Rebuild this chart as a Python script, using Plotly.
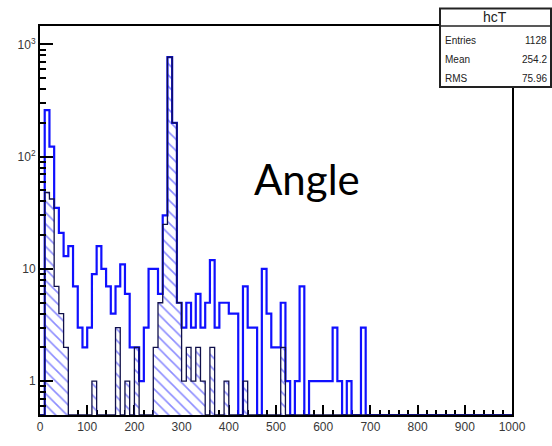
import numpy as np
import plotly.graph_objects as go

# ---------------- data ----------------
bin_width = 10
bin_edges = list(range(0, 1001, bin_width))

# total "Angle" histogram (blue outline), 100 bins of 10
total_counts = [
    0, 260, 123, 35, 21, 13, 16, 7, 3, 2,          # 0-99
    3, 9, 16, 10, 7, 4, 7, 11, 6, 2,              # 100-199
    2, 1, 3, 10, 10, 6, 30, 770, 200, 5,          # 200-299
    3, 5, 3, 6, 3, 5, 12, 3, 5, 5,                # 300-399
    4, 4, 0, 7, 3, 3, 0, 10, 4, 2,                # 400-499
    2, 5, 1, 0, 1, 7, 0, 1, 1, 1,                 # 500-599
    1, 1, 3, 1, 0, 1, 0, 0, 3, 0,                 # 600-699
    0, 0, 0, 0, 0, 0, 0, 0, 0, 0,                 # 700-799
    0, 0, 0, 0, 0, 0, 0, 0, 0, 0,                 # 800-899
    0, 0, 0, 0, 0, 0, 0, 0, 0, 0,                 # 900-999
]

# hatched sub-sample histogram
hatched_counts = [
    0, 48, 42, 7, 4, 2, 0, 0, 0, 0,
    0, 1, 0, 0, 0, 0, 3, 0, 1, 0,
    2, 0, 0, 0, 2, 5, 25, 770, 200, 5,
    1, 2, 1, 2, 1, 0, 2, 0, 0, 1,
    0, 0, 0, 1, 0, 0, 0, 0, 0, 0,
    0, 2, 0, 0, 0, 0, 0, 0, 0, 0,
    0, 0, 0, 0, 0, 0, 0, 0, 0, 0,
    0, 0, 0, 0, 0, 0, 0, 0, 0, 0,
    0, 0, 0, 0, 0, 0, 0, 0, 0, 0,
    0, 0, 0, 0, 0, 0, 0, 0, 0, 0,
]

x_tick_vals = list(range(0, 1001, 100))
y_tick_vals = [1, 10, 100, 1000]
y_tick_text = ["1", "10", "10<sup>2</sup>", "10<sup>3</sup>"]

stats_title = "hcT"
stats_names = ["Entries", "Mean", "RMS"]
stats_values = ["1128", "254.2", "75.96"]
label_text = "Angle"

# ---------------- figure ----------------
W, H = 552, 446
L, R, T, B = 40, 40, 26, 19
y_range = [np.log10(0.5), np.log10(1460)]
y_floor = 10 ** y_range[0]

edges = np.array(bin_edges, dtype=float)
centers = (edges[:-1] + edges[1:]) / 2
tot = np.array(total_counts, dtype=float)
hat = np.array(hatched_counts, dtype=float)

def step_y(v):
    v = np.where(v > 0, v, y_floor)
    return np.append(v, v[-1])

fig = go.Figure()

# hatched fill
fig.add_trace(go.Bar(
    x=centers, y=np.where(hat > 0, hat, np.nan), width=bin_width,
    marker=dict(color="white", line=dict(width=0),
                pattern=dict(shape="\\", fgcolor="#1a1aff", bgcolor="white",
                             size=8, solidity=0.2)),
    showlegend=False, hoverinfo="skip"))

# total outline
fig.add_trace(go.Scatter(
    x=edges, y=step_y(tot), mode="lines", line_shape="hv",
    line=dict(color="#1010ff", width=2.2), showlegend=False, hoverinfo="skip"))

# hatched outline
fig.add_trace(go.Scatter(
    x=edges, y=step_y(hat), mode="lines", line_shape="hv",
    line=dict(color="#10104a", width=1.3), showlegend=False, hoverinfo="skip"))

minor_y = [m * 10 ** d for d in range(-1, 4) for m in range(2, 10)]

fig.update_layout(
    width=W, height=H,
    margin=dict(l=L, r=R, t=T, b=B),
    paper_bgcolor="white", plot_bgcolor="white",
    bargap=0,
    font=dict(family="Liberation Sans, Arial, sans-serif", color="#333333"),
    xaxis=dict(range=[0, 1000], showgrid=False, zeroline=False,
               showline=True, linecolor="black", linewidth=2, mirror=True,
               ticks="inside", ticklen=10, tickwidth=1.5, tickcolor="black",
               tickvals=x_tick_vals, tickfont=dict(size=12, color="#383838"),
               minor=dict(ticks="inside", ticklen=5, tickwidth=1.5, tickcolor="black",
                          dtick=20, tick0=0),
               layer="below traces"),
    yaxis=dict(type="log", range=y_range, showgrid=False, zeroline=False,
               showline=True, linecolor="black", linewidth=2, mirror=True,
               ticks="inside", ticklen=13, tickwidth=1.5, tickcolor="black",
               tickvals=y_tick_vals, ticktext=y_tick_text,
               tickfont=dict(size=12, color="#383838"),
               minor=dict(ticks="inside", ticklen=6, tickwidth=1.5, tickcolor="black",
                          tickvals=minor_y)),
)

def px2paper(px, py):
    return (px - L) / (W - L - R), (H - B - py) / (H - T - B)

# stats box
bx0, by0 = px2paper(440, 8)
bx1, by1 = px2paper(551, 89)
_, ydiv = px2paper(0, 26)
fig.add_shape(type="rect", xref="paper", yref="paper", x0=bx0, y0=by1, x1=bx1, y1=by0,
              line=dict(color="#222222", width=2), fillcolor="white", layer="above")
fig.add_shape(type="line", xref="paper", yref="paper", x0=bx0, y0=ydiv, x1=bx1, y1=ydiv,
              line=dict(color="#222222", width=1.5), layer="above")

tx, ty = px2paper(495, 17)
fig.add_annotation(xref="paper", yref="paper", x=tx, y=ty, text=stats_title, showarrow=False,
                   font=dict(size=14, color="#222222", family="Liberation Sans, Arial"),
                   xanchor="center", yanchor="middle")
for i, (n, v) in enumerate(zip(stats_names, stats_values)):
    yy = 41 + i * 19.5
    nx, ny = px2paper(443, yy)
    vx, vy = px2paper(549, yy)
    fig.add_annotation(xref="paper", yref="paper", x=nx, y=ny, text=n, showarrow=False,
                       font=dict(size=10, color="#222222", family="Liberation Sans, Arial"),
                       xanchor="left", yanchor="middle")
    fig.add_annotation(xref="paper", yref="paper", x=vx, y=vy, text=v, showarrow=False,
                       font=dict(size=10, color="#222222", family="Liberation Sans, Arial"),
                       xanchor="right", yanchor="middle")

ax, ay = px2paper(307, 184)
fig.add_annotation(xref="paper", yref="paper", x=ax, y=ay, text=label_text, showarrow=False,
                   font=dict(size=42, color="black", family="Lato, Open Sans, sans-serif"),
                   xanchor="center", yanchor="middle")

fig.write_html("out.html")
